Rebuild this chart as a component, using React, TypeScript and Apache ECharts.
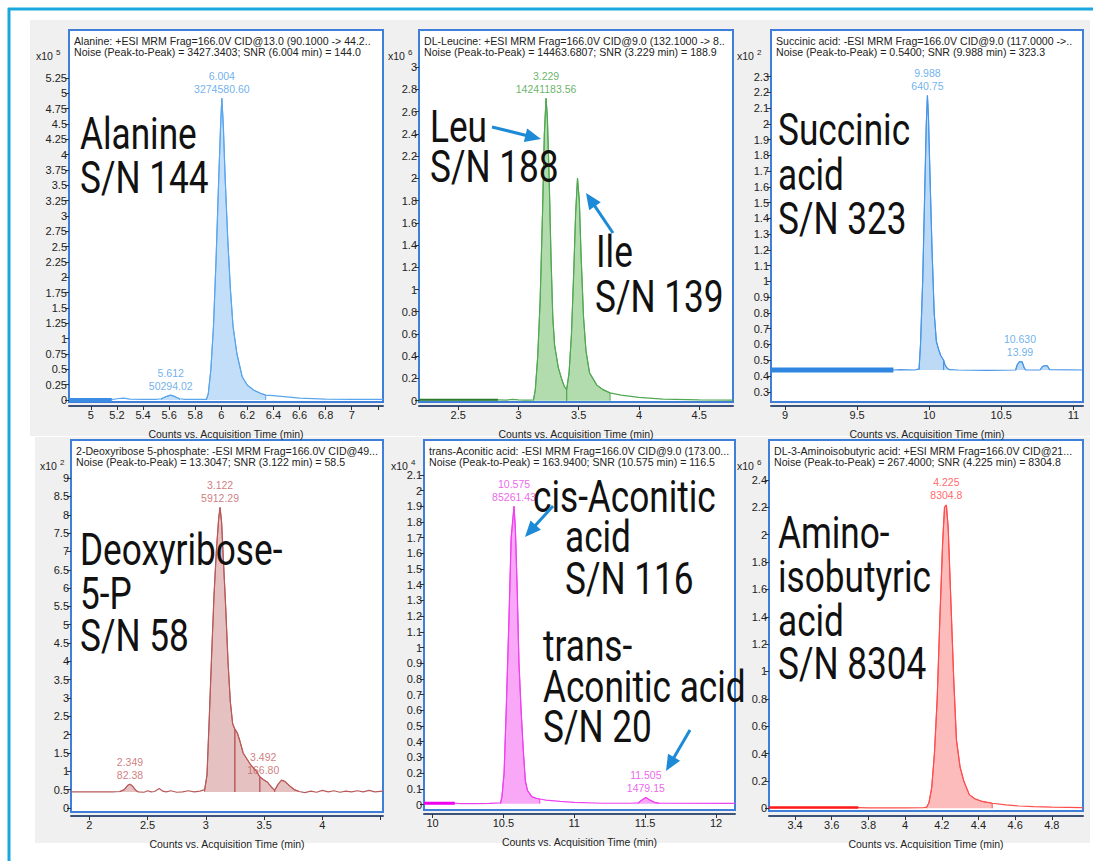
import React, { useEffect, useRef } from "react";
import * as echarts from "echarts";

type Pt = [number, number];

// ---------- Panel A: Alanine (counts x10^5) ----------
const alanineTrace: Pt[] = [
  [4.832, 0.005], [5.16, 0.005], [5.2, 0.02], [5.25, 0.03], [5.3, 0.015], [5.4, 0.01], [5.5, 0.01],
  [5.54, 0.02], [5.57, 0.05], [5.612, 0.08], [5.65, 0.05], [5.68, 0.02], [5.72, 0.01], [5.8, 0.01],
  [5.885, 0.01], [5.9, 0.1], [5.92, 0.5], [5.94, 1.2], [5.96, 2.3], [5.98, 3.6], [5.995, 4.5],
  [6.004, 4.92], [6.015, 4.5], [6.03, 3.6], [6.05, 2.6], [6.07, 1.8], [6.09, 1.2], [6.12, 0.75],
  [6.16, 0.38], [6.2, 0.24], [6.25, 0.16], [6.3, 0.11], [6.34, 0.08], [6.4, 0.07], [6.5, 0.05],
  [6.6, 0.03], [6.8, 0.015], [7.0, 0.01], [7.24, 0.01],
];
const alanineThick: Pt[] = [[4.832, 0.0], [5.16, 0.0]];
const alanineFills: Pt[] = [[5.54, 5.68], [5.885, 6.34]];
const alaninePeakTimes = [6.004, 5.612];
const alaninePeakHeights = [4.92, 0.08];
const alaninePeakAreas = ["3274580.60", "50294.02"];
const alanineXLabels = [5, 5.2, 5.4, 5.6, 5.8, 6, 6.2, 6.4, 6.6, 6.8, 7];
const alanineYLabels = [0, 0.25, 0.5, 0.75, 1, 1.25, 1.5, 1.75, 2, 2.25, 2.5, 2.75, 3, 3.25, 3.5, 3.75, 4, 4.25, 4.5, 4.75, 5, 5.25];

// ---------- Panel B: DL-Leucine (counts x10^6) ----------
const leucineTrace: Pt[] = [
  [2.175, 0.008], [2.83, 0.008], [2.9, 0.006], [2.95, 0.012], [3.0, 0.008], [3.05, 0.006], [3.1, 0.006],
  [3.125, 0.008], [3.14, 0.1], [3.16, 0.4], [3.18, 0.9], [3.2, 1.7], [3.215, 2.4], [3.229, 2.72],
  [3.24, 2.55], [3.255, 2.0], [3.27, 1.3], [3.285, 0.75], [3.3, 0.5], [3.33, 0.3], [3.36, 0.19],
  [3.38, 0.13], [3.4, 0.1], [3.42, 0.25], [3.44, 0.6], [3.46, 1.2], [3.475, 1.7], [3.49, 2.0],
  [3.505, 1.8], [3.52, 1.3], [3.54, 0.75], [3.56, 0.45], [3.59, 0.25], [3.65, 0.14], [3.7, 0.1],
  [3.76, 0.07], [3.85, 0.05], [4.0, 0.03], [4.2, 0.015], [4.5, 0.008], [4.78, 0.005],
];
const leucineThick: Pt[] = [[2.175, 0.008], [2.83, 0.008]];
const leucineFills: Pt[] = [[3.125, 3.4], [3.4, 3.76]];
const leucinePeakTimes = [3.229];
const leucinePeakHeights = [2.72];
const leucinePeakAreas = ["14241183.56"];
const leucineXLabels = [2.5, 3, 3.5, 4, 4.5];
const leucineYLabels = [0, 0.2, 0.4, 0.6, 0.8, 1, 1.2, 1.4, 1.6, 1.8, 2, 2.2, 2.4, 2.6, 2.8, 3];

// ---------- Panel C: Succinic acid (counts x10^2) ----------
const succinicTrace: Pt[] = [
  [8.903, 0.438], [9.752, 0.438], [9.8, 0.44], [9.9, 0.438], [9.93, 0.445], [9.94, 0.6], [9.955, 1.0],
  [9.97, 1.6], [9.98, 2.0], [9.988, 2.18], [9.995, 2.05], [10.005, 1.7], [10.02, 1.2], [10.035, 0.8],
  [10.05, 0.62], [10.065, 0.57], [10.08, 0.53], [10.1, 0.5], [10.11, 0.47], [10.125, 0.45], [10.14, 0.44],
  [10.2, 0.438], [10.4, 0.436], [10.6, 0.438], [10.61, 0.47], [10.625, 0.49], [10.645, 0.49], [10.66, 0.45],
  [10.67, 0.438], [10.77, 0.438], [10.785, 0.46], [10.8, 0.465], [10.82, 0.465], [10.835, 0.44], [11.067, 0.438],
];
const succinicThick: Pt[] = [[8.903, 0.438], [9.752, 0.438]];
const succinicFills: Pt[] = [[9.93, 10.1], [10.1, 10.14], [10.6, 10.67], [10.77, 10.835]];
const succinicPeakTimes = [9.988, 10.63];
const succinicPeakHeights = [2.18, 0.49];
const succinicPeakAreas = ["640.75", "13.99"];
const succinicXLabels = [9, 9.5, 10, 10.5, 11];
const succinicYLabels = [0.3, 0.4, 0.5, 0.6, 0.7, 0.8, 0.9, 1, 1.1, 1.2, 1.3, 1.4, 1.5, 1.6, 1.7, 1.8, 1.9, 2, 2.1, 2.2, 2.3];

// ---------- Panel D: 2-Deoxyribose 5-phosphate (counts x10^2) ----------
const deoxyTrace: Pt[] = [
  [1.843, 0.44], [2.2, 0.44], [2.26, 0.45], [2.3, 0.5], [2.33, 0.62], [2.349, 0.65], [2.37, 0.6], [2.4, 0.48],
  [2.42, 0.44], [2.47, 0.43], [2.5, 0.47], [2.53, 0.44], [2.56, 0.45], [2.6, 0.53], [2.63, 0.46], [2.66, 0.44],
  [2.7, 0.47], [2.75, 0.43], [2.8, 0.44], [2.85, 0.47], [2.9, 0.44], [2.95, 0.46], [2.99, 0.5], [3.01, 0.9],
  [3.03, 2.5], [3.05, 4.2], [3.07, 5.8], [3.09, 7.0], [3.11, 7.9], [3.122, 8.2], [3.135, 7.8], [3.15, 6.8],
  [3.17, 5.5], [3.19, 4.0], [3.21, 2.9], [3.23, 2.3], [3.249, 2.15], [3.27, 2.05], [3.29, 1.85], [3.32, 1.5],
  [3.38, 1.2], [3.435, 1.0], [3.463, 0.85], [3.492, 0.78], [3.53, 0.7], [3.56, 0.58], [3.59, 0.48],
  [3.62, 0.65], [3.65, 0.76], [3.68, 0.72], [3.72, 0.6], [3.76, 0.5], [3.8, 0.45], [3.85, 0.42], [3.9, 0.46],
  [3.95, 0.43], [4.0, 0.48], [4.05, 0.44], [4.1, 0.47], [4.15, 0.43], [4.2, 0.46], [4.25, 0.44], [4.3, 0.47],
  [4.35, 0.44], [4.4, 0.48], [4.45, 0.44], [4.52, 0.46],
];
const deoxyFills: Pt[] = [[2.26, 2.42], [2.99, 3.249], [3.249, 3.463], [3.463, 3.59], [3.59, 3.8]];
const deoxyPeakTimes = [3.122, 2.349, 3.492];
const deoxyPeakHeights = [8.2, 0.65, 0.78];
const deoxyPeakAreas = ["5912.29", "82.38", "166.80"];
const deoxyXLabels = [2, 2.5, 3, 3.5, 4];
const deoxyYLabels = [0, 0.5, 1, 1.5, 2, 2.5, 3, 3.5, 4, 4.5, 5, 5.5, 6, 6.5, 7, 7.5, 8, 8.5, 9];

// ---------- Panel E: trans-Aconitic acid (counts x10^4) ----------
const aconiticTrace: Pt[] = [
  [9.94, 0.008], [10.157, 0.008], [10.2, 0.005], [10.3, 0.006], [10.4, 0.007], [10.48, 0.01], [10.49, 0.05],
  [10.505, 0.2], [10.52, 0.6], [10.54, 1.2], [10.555, 1.7], [10.575, 1.9], [10.585, 1.75], [10.598, 1.35],
  [10.61, 0.9], [10.625, 0.6], [10.64, 0.35], [10.655, 0.15], [10.67, 0.09], [10.7, 0.05], [10.73, 0.04],
  [10.757, 0.035], [10.8, 0.028], [10.9, 0.02], [11.0, 0.013], [11.2, 0.008], [11.4, 0.008], [11.45, 0.01],
  [11.48, 0.03], [11.505, 0.045], [11.53, 0.03], [11.57, 0.012], [11.6, 0.008], [12.134, 0.007],
];
const aconiticThick: Pt[] = [[9.94, 0.008], [10.157, 0.008]];
const aconiticFills: Pt[] = [[10.48, 10.757], [11.45, 11.6]];
const aconiticPeakTimes = [10.575, 11.505];
const aconiticPeakHeights = [1.9, 0.045];
const aconiticPeakAreas = ["85261.43", "1479.15"];
const aconiticXLabels = [10, 10.5, 11, 11.5, 12];
const aconiticYLabels = [0, 0.1, 0.2, 0.3, 0.4, 0.5, 0.6, 0.7, 0.8, 0.9, 1, 1.1, 1.2, 1.3, 1.4, 1.5, 1.6, 1.7, 1.8, 1.9, 2, 2.1];

// ---------- Panel F: DL-3-Aminoisobutyric acid (counts x10^6) ----------
const aminoTrace: Pt[] = [
  [3.258, 0.005], [3.745, 0.005], [3.8, 0.003], [3.9, 0.003], [4.0, 0.003], [4.1, 0.004], [4.117, 0.008],
  [4.13, 0.04], [4.145, 0.15], [4.16, 0.4], [4.175, 0.8], [4.19, 1.4], [4.205, 1.95], [4.215, 2.2],
  [4.225, 2.217], [4.235, 2.05], [4.25, 1.5], [4.265, 0.95], [4.28, 0.5], [4.3, 0.3], [4.32, 0.2],
  [4.35, 0.1], [4.38, 0.07], [4.42, 0.05], [4.475, 0.037], [4.55, 0.025], [4.62, 0.017], [4.7, 0.012],
  [4.8, 0.008], [4.97, 0.005],
];
const aminoThick: Pt[] = [[3.258, 0.005], [3.745, 0.005]];
const aminoFills: Pt[] = [[4.117, 4.475]];
const aminoPeakTimes = [4.225];
const aminoPeakHeights = [2.217];
const aminoPeakAreas = ["8304.8"];
const aminoXLabels = [3.4, 3.6, 3.8, 4, 4.2, 4.4, 4.6, 4.8];
const aminoYLabels = [0, 0.2, 0.4, 0.6, 0.8, 1, 1.2, 1.4, 1.6, 1.8, 2, 2.2, 2.4];

const AXIS_TITLE = "Counts vs. Acquisition Time (min)";
const FONT = "'Liberation Sans', Arial, sans-serif";
const BIG_FONT = "Roboto, 'Liberation Sans', sans-serif";

type Panel = {
  box: { left: number; top: number; width: number; height: number };
  x: [number, number];
  y: [number, number];
  offset: number;
  xLabels: number[];
  xTicks: number[];
  yLabels: number[];
  trace: Pt[];
  thick: Pt[] | null;
  thickWidth: number;
  fills: Pt[];
  base: number;
  color: string;
  thickColor: string;
  fillColor: string;
  labelColor: string;
  peakTimes: number[];
  peakHeights: number[];
  peakAreas: string[];
  header: [string, string];
  exp: string;
  expPos: [number, number];
};

const panels: Panel[] = [
  {
    box: { left: 69, top: 30, width: 314, height: 372 }, x: [4.832, 7.24], y: [-0.0326, 6.033], offset: 4,
    xLabels: alanineXLabels, xTicks: [...alanineXLabels, 7.2], yLabels: alanineYLabels,
    trace: alanineTrace, thick: alanineThick, thickWidth: 4, fills: alanineFills, base: 0,
    color: "#5aa6ee", thickColor: "#3b8de3", fillColor: "#c3def8", labelColor: "#4b9ce8",
    peakTimes: alaninePeakTimes, peakHeights: alaninePeakHeights, peakAreas: alaninePeakAreas,
    header: ["Alanine: +ESI MRM Frag=166.0V CID@13.0 (90.1000 -> 44.2..", "Noise (Peak-to-Peak) = 3427.3403; SNR (6.004 min) = 144.0"],
    exp: "5", expPos: [36, 56],
  },
  {
    box: { left: 419, top: 30, width: 314, height: 372 }, x: [2.175, 4.78], y: [-0.0117, 3.334], offset: 4,
    xLabels: leucineXLabels, xTicks: leucineXLabels, yLabels: leucineYLabels,
    trace: leucineTrace, thick: leucineThick, thickWidth: 2, fills: leucineFills, base: 0,
    color: "#52a852", thickColor: "#2c7a2c", fillColor: "#b3dcae", labelColor: "#3f9f3f",
    peakTimes: leucinePeakTimes, peakHeights: leucinePeakHeights, peakAreas: leucinePeakAreas,
    header: ["DL-Leucine: +ESI MRM Frag=166.0V CID@9.0 (132.1000 -> 8..", "Noise (Peak-to-Peak) = 14463.6807; SNR (3.229 min) = 188.9"],
    exp: "6", expPos: [388, 56],
  },
  {
    box: { left: 771, top: 30, width: 312, height: 372 }, x: [8.903, 11.067], y: [0.235, 2.596], offset: 4,
    xLabels: succinicXLabels, xTicks: succinicXLabels, yLabels: succinicYLabels,
    trace: succinicTrace, thick: succinicThick, thickWidth: 5, fills: succinicFills, base: 0.438,
    color: "#4896e8", thickColor: "#2f86e0", fillColor: "#bcd9f6", labelColor: "#4b9ce8",
    peakTimes: succinicPeakTimes, peakHeights: succinicPeakHeights, peakAreas: succinicPeakAreas,
    header: ["Succinic acid: -ESI MRM Frag=166.0V CID@9.0 (117.0000 ->..", "Noise (Peak-to-Peak) = 0.5400; SNR (9.988 min) = 323.3"],
    exp: "2", expPos: [737, 56],
  },
  {
    box: { left: 71, top: 440, width: 312, height: 372 }, x: [1.843, 4.52], y: [-0.109, 10.04], offset: 4,
    xLabels: deoxyXLabels, xTicks: [...deoxyXLabels, 4.5], yLabels: deoxyYLabels,
    trace: deoxyTrace, thick: null, thickWidth: 0, fills: deoxyFills, base: 0.44,
    color: "#b85a5a", thickColor: "#b85a5a", fillColor: "#e6c1c1", labelColor: "#c45c5c",
    peakTimes: deoxyPeakTimes, peakHeights: deoxyPeakHeights, peakAreas: deoxyPeakAreas,
    header: ["2-Deoxyribose 5-phosphate: -ESI MRM Frag=166.0V CID@49...", "Noise (Peak-to-Peak) = 13.3047; SNR (3.122 min) = 58.5"],
    exp: "2", expPos: [40, 466],
  },
  {
    box: { left: 424, top: 440, width: 311, height: 370 }, x: [9.94, 12.134], y: [-0.035, 2.322], offset: 4,
    xLabels: aconiticXLabels, xTicks: aconiticXLabels, yLabels: aconiticYLabels,
    trace: aconiticTrace, thick: aconiticThick, thickWidth: 3, fills: aconiticFills, base: 0.005,
    color: "#f040f0", thickColor: "#f000f0", fillColor: "#f8a8f6", labelColor: "#e83ce8",
    peakTimes: aconiticPeakTimes, peakHeights: aconiticPeakHeights, peakAreas: aconiticPeakAreas,
    header: ["trans-Aconitic acid: -ESI MRM Frag=166.0V CID@9.0 (173.00...", "Noise (Peak-to-Peak) = 163.9400; SNR (10.575 min) = 116.5"],
    exp: "4", expPos: [391, 466],
  },
  {
    box: { left: 769, top: 440, width: 314, height: 371 }, x: [3.258, 4.97], y: [-0.0197, 2.692], offset: 5,
    xLabels: aminoXLabels, xTicks: aminoXLabels, yLabels: aminoYLabels,
    trace: aminoTrace, thick: aminoThick, thickWidth: 2.5, fills: aminoFills, base: 0,
    color: "#ff4d4d", thickColor: "#ff1a1a", fillColor: "#fcbcbc", labelColor: "#ff4040",
    peakTimes: aminoPeakTimes, peakHeights: aminoPeakHeights, peakAreas: aminoPeakAreas,
    header: ["DL-3-Aminoisobutyric acid: +ESI MRM Frag=166.0V CID@21...", "Noise (Peak-to-Peak) = 267.4000; SNR (4.225 min) = 8304.8"],
    exp: "6", expPos: [737, 466],
  },
];

// Big annotation texts: [text, x, yCenter]
const bigTexts: [string, number, number][] = [
  ["Alanine", 80, 134], ["S/N 144", 80, 178],
  ["Leu", 430, 127], ["S/N 188", 430, 167],
  ["Ile", 596, 252], ["S/N 139", 595, 297],
  ["Succinic", 778, 130], ["acid", 778, 175], ["S/N 323", 778, 219],
  ["Deoxyribose-", 80, 550], ["5-P", 80, 594], ["S/N 58", 80, 636],
  ["cis-Aconitic", 533, 497], ["acid", 565, 537], ["S/N 116", 565, 579],
  ["trans-", 543, 646], ["Aconitic acid", 543, 687], ["S/N 20", 543, 727],
  ["Amino-", 778, 533], ["isobutyric", 778, 577], ["acid", 778, 621], ["S/N 8304", 778, 664],
];

// Arrows: [tailX, tailY, tipX, tipY]
const arrows: [number, number, number, number][] = [
  [492, 127, 541, 139],
  [613, 233, 586, 193],
  [553, 506, 525, 537],
  [690, 730, 666, 771],
];

const fmt = (v: number) => String(Math.round(v * 1000) / 1000);

function segment(trace: Pt[], t0: number, t1: number, base: number): Pt[] {
  const pts = trace.filter((p) => p[0] >= t0 - 1e-9 && p[0] <= t1 + 1e-9);
  return [[t0, base], ...pts, [t1, base]];
}

function arrow(a: [number, number, number, number]) {
  const [sx, sy, tx, ty] = a;
  const dx = tx - sx, dy = ty - sy;
  const len = Math.sqrt(dx * dx + dy * dy);
  const ux = dx / len, uy = dy / len;
  const L = 16, W = 7;
  const bx = tx - ux * L, by = ty - uy * L;
  const nx = -uy, ny = ux;
  const col = "#1c8ad6";
  return {
    type: "group",
    z: 120,
    children: [
      { type: "line", z: 120, shape: { x1: sx, y1: sy, x2: bx + ux * 2, y2: by + uy * 2 }, style: { stroke: col, lineWidth: 3 } },
      { type: "polygon", z: 120, shape: { points: [[tx, ty], [bx + nx * W, by + ny * W], [bx - nx * W, by - ny * W]] }, style: { fill: col } },
    ],
  };
}

function buildOption() {
  const grid: any[] = [];
  const xAxis: any[] = [];
  const yAxis: any[] = [];
  const series: any[] = [];
  const graphic: any[] = [];

  // backgrounds and outer border
  graphic.push({ type: "rect", z: -10, shape: { x: 30, y: 20, width: 1060, height: 416 }, style: { fill: "#f0f0f0" } });
  graphic.push({ type: "rect", z: -10, shape: { x: 35, y: 437, width: 1055, height: 406 }, style: { fill: "#f0f0f0" } });
  graphic.push({ type: "line", z: 5, shape: { x1: 8, y1: 9, x2: 1093, y2: 9 }, style: { stroke: "#1aa7dc", lineWidth: 3 } });
  graphic.push({ type: "line", z: 5, shape: { x1: 9, y1: 8, x2: 9, y2: 861 }, style: { stroke: "#1aa7dc", lineWidth: 3 } });

  panels.forEach((p, i) => {
    grid.push({
      left: p.box.left, top: p.box.top, width: p.box.width, height: p.box.height,
      show: true, backgroundColor: "#ffffff", borderColor: "#3f7fd9", borderWidth: 2,
    });
    xAxis.push({
      gridIndex: i, type: "value", min: p.x[0], max: p.x[1], offset: p.offset,
      axisLine: { show: true, onZero: false, lineStyle: { color: "#3d5278", width: 2 } },
      axisTick: { show: true, customValues: p.xTicks, length: 4, lineStyle: { color: "#333", width: 1 } },
      axisLabel: { customValues: p.xLabels, formatter: fmt, fontSize: 11, color: "#222", margin: 3, fontFamily: FONT },
      splitLine: { show: false },
      name: AXIS_TITLE, nameLocation: "middle", nameGap: 22,
      nameTextStyle: { fontSize: 10.5, color: "#222", fontFamily: FONT },
    });
    yAxis.push({
      gridIndex: i, type: "value", min: p.y[0], max: p.y[1],
      axisLine: { show: false, onZero: false },
      axisTick: { show: true, customValues: p.yLabels, length: 4, lineStyle: { color: "#333", width: 1 } },
      axisLabel: { customValues: p.yLabels, formatter: fmt, fontSize: 11, color: "#222", margin: 2, fontFamily: FONT },
      splitLine: { show: false },
    });
    p.fills.forEach((f) => {
      series.push({
        type: "line", xAxisIndex: i, yAxisIndex: i, data: segment(p.trace, f[0], f[1], p.base),
        symbol: "none", silent: true, z: 2,
        lineStyle: { color: p.color, width: 1 },
        areaStyle: { color: p.fillColor, opacity: 1, origin: p.base },
      });
    });
    series.push({
      type: "line", xAxisIndex: i, yAxisIndex: i, data: p.trace, symbol: "none", silent: true, z: 3,
      lineStyle: { color: p.color, width: 1.2 },
    });
    if (p.thick) {
      series.push({
        type: "line", xAxisIndex: i, yAxisIndex: i, data: p.thick, symbol: "none", silent: true, z: 4,
        lineStyle: { color: p.thickColor, width: p.thickWidth },
      });
    }
    series.push({
      type: "scatter", xAxisIndex: i, yAxisIndex: i, symbolSize: 0, silent: true, z: 5,
      data: p.peakTimes.map((t, k) => ({
        value: [t, p.peakHeights[k]],
        label: { formatter: `${t.toFixed(3)}\n${p.peakAreas[k]}` },
      })),
      label: {
        show: true, position: "top", distance: 3, color: p.labelColor, fontSize: 10.5,
        lineHeight: 13, fontFamily: FONT, align: "center",
      },
    });
    // header lines
    graphic.push({ type: "text", z: 50, x: p.box.left + 5, y: p.box.top + 11, style: { text: p.header[0], fontSize: 10.6, fontFamily: FONT, fill: "#222", align: "left", verticalAlign: "middle" } });
    graphic.push({ type: "text", z: 50, x: p.box.left + 5, y: p.box.top + 22, style: { text: p.header[1], fontSize: 10.6, fontFamily: FONT, fill: "#222", align: "left", verticalAlign: "middle" } });
    // exponent
    graphic.push({ type: "text", z: 50, x: p.expPos[0], y: p.expPos[1], style: { text: "x10", fontSize: 10.5, fontFamily: FONT, fill: "#222", align: "left", verticalAlign: "middle" } });
    graphic.push({ type: "text", z: 50, x: p.expPos[0] + 20, y: p.expPos[1] - 4, style: { text: p.exp, fontSize: 8, fontFamily: FONT, fill: "#222", align: "left", verticalAlign: "middle" } });
  });

  bigTexts.forEach(([t, x, y]) => {
    graphic.push({
      type: "text", z: 100, x, y, scaleX: 0.8,
      style: { text: t, fontSize: 44, fontFamily: BIG_FONT, fill: "#111", align: "left", verticalAlign: "middle" },
    });
  });
  arrows.forEach((a) => graphic.push(arrow(a)));

  return { animation: false, backgroundColor: "#ffffff", grid, xAxis, yAxis, series, graphic };
}

export default function App() {
  const ref = useRef<HTMLDivElement>(null);
  useEffect(() => {
    if (!ref.current) return;
    const chart = echarts.init(ref.current, null, { renderer: "svg" });
    chart.setOption(buildOption() as any);
    return () => chart.dispose();
  }, []);
  return <div ref={ref} style={{ position: "fixed", left: 0, top: 0, width: 1093, height: 861, background: "#fff" }} />;
}
